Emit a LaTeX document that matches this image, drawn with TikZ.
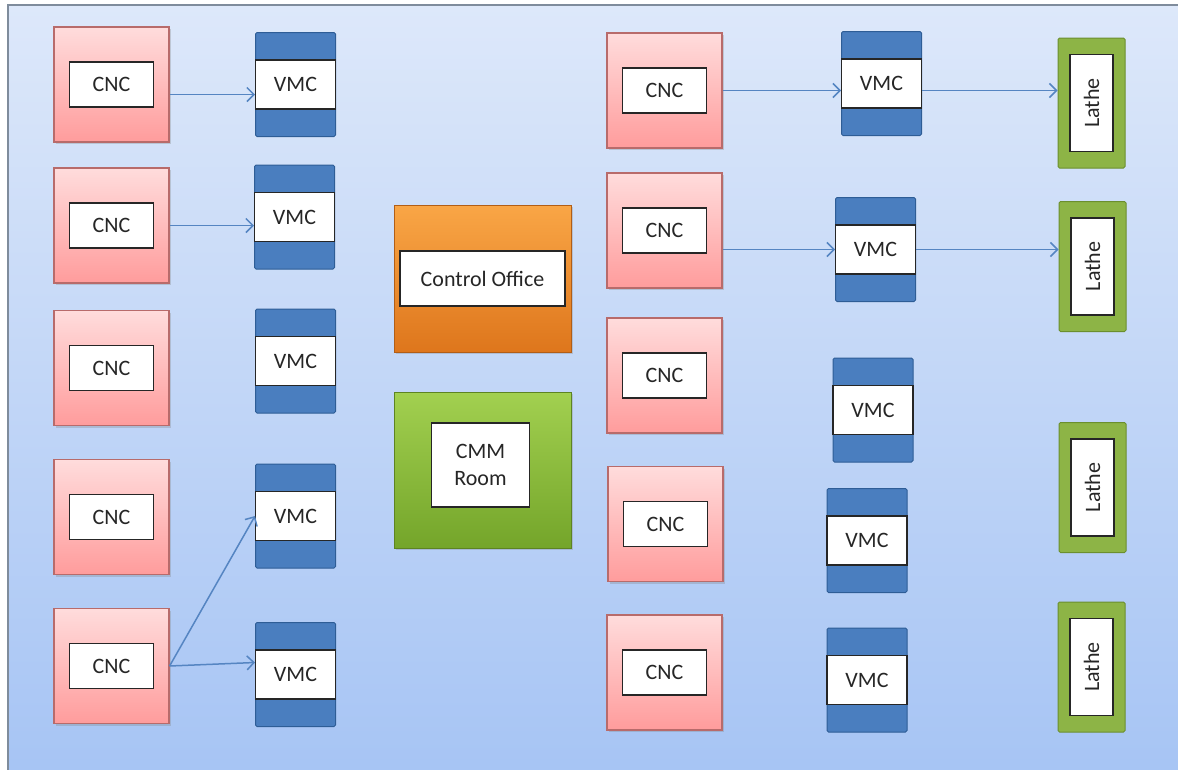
\documentclass[tikz,border=0pt]{standalone}
\usepackage{fontspec}
\usepackage{graphicx}
\setmainfont{Carlito}
\usetikzlibrary{arrows.meta,shadows}

\definecolor{bgTop}{HTML}{DDE8FA}
\definecolor{bgBot}{HTML}{A6C4F4}
\definecolor{frameCol}{HTML}{7F8C9C}
\definecolor{cncTop}{HTML}{FFDCDC}
\definecolor{cncBot}{HTML}{FF9C9C}
\definecolor{cncLine}{HTML}{B86B6B}
\definecolor{vmcFill}{HTML}{4A7EBF}
\definecolor{vmcLine}{HTML}{2E5D96}
\definecolor{latheFill}{HTML}{8DB446}
\definecolor{latheLine}{HTML}{6B8F2E}
\definecolor{ctrlTop}{HTML}{F9A646}
\definecolor{ctrlBot}{HTML}{DE761C}
\definecolor{cmmTop}{HTML}{A2D050}
\definecolor{cmmBot}{HTML}{74A52A}
\definecolor{arrowCol}{HTML}{5585C2}
\definecolor{textCol}{HTML}{262626}

\tikzset{
  shadowed/.style={drop shadow={shadow xshift=2pt, shadow yshift=-2pt, opacity=0.3}},
  whitebox/.style={draw=black!85, line width=1.8pt, fill=white, inner sep=0pt, text=textCol, align=center},
  cncbox/.style={shadowed, draw=cncLine, line width=1.2pt, top color=cncTop, bottom color=cncBot,
    minimum width=115pt, minimum height=115pt, inner sep=0pt},
  cnclabel/.style={whitebox, minimum width=84pt, minimum height=45pt},
  vmcbox/.style={draw=vmcLine, fill=vmcFill, line width=1pt, rounded corners=1.5pt, minimum width=80pt, minimum height=104pt, inner sep=0pt},
  vmclabel/.style={whitebox, minimum width=80pt, minimum height=49pt},
  lathebox/.style={draw=latheLine, fill=latheFill, line width=1pt, rounded corners=1.5pt, minimum width=67pt, minimum height=130pt, inner sep=0pt},
  lathelabel/.style={whitebox, minimum width=43pt, minimum height=97pt},
  ctrlbox/.style={shadowed, draw=ctrlBot!80!black, line width=0.8pt, top color=ctrlTop, bottom color=ctrlBot,
    minimum width=177pt, minimum height=147pt, inner sep=0pt},
  ctrllabel/.style={whitebox, minimum width=165pt, minimum height=55pt},
  cmmbox/.style={shadowed, draw=cmmBot!80!black, line width=0.8pt, top color=cmmTop, bottom color=cmmBot,
    minimum width=177pt, minimum height=156pt, inner sep=0pt},
  cmmlabel/.style={whitebox, minimum width=98pt, minimum height=84pt},
  conn/.style={draw=arrowCol, line width=1.5pt, -{Straight Barb[length=7pt,width=14pt]}}
}

\begin{document}
\begin{tikzpicture}[x=1pt, y=-1pt, font=\fontsize{22}{27}\selectfont]
\useasboundingbox (0,0) rectangle (1178,769);
\fill[white] (0,0) rectangle (1178,769);
\shade[top color=bgTop, bottom color=bgBot] (8,5) rectangle (1190,780);
\draw[frameCol, line width=2pt] (8,780) -- (8,5) -- (1190,5);

% ---------- left CNC column ----------
\node[cncbox] (cl1) at (111.5,84.5) {};
\node[cnclabel] (tl1) at (cl1.center) {CNC};
\node[cncbox] (cl2) at (111.5,225.5) {};
\node[cnclabel] (tl2) at (cl2.center) {CNC};
\node[cncbox] (cl3) at (111.5,368) {};
\node[cnclabel] (tl3) at (cl3.center) {CNC};
\node[cncbox] (cl4) at (111.5,517) {};
\node[cnclabel] (tl4) at (cl4.center) {CNC};
\node[cncbox] (cl5) at (111.5,666) {};
\node[cnclabel] (tl5) at (cl5.center) {CNC};

% ---------- left VMC column ----------
\node[vmcbox] (vl1) at (295.5,84.5) {};
\node[vmclabel] (wl1) at (vl1.center) {VMC};
\node[vmcbox] (vl2) at (294.5,217) {};
\node[vmclabel] (wl2) at (vl2.center) {VMC};
\node[vmcbox] (vl3) at (295.5,361) {};
\node[vmclabel] (wl3) at (vl3.center) {VMC};
\node[vmcbox] (vl4) at (295.5,516) {};
\node[vmclabel] (wl4) at (vl4.center) {VMC};
\node[vmcbox] (vl5) at (295.5,674.5) {};
\node[vmclabel] (wl5) at (vl5.center) {VMC};

% ---------- centre ----------
\node[ctrlbox] (ctrl) at (482.5,278.5) {};
\node[ctrllabel] (ctrlt) at (ctrl.center) {Control Office};
\node[cmmbox] (cmm) at (482.5,470) {};
\node[cmmlabel] (cmmt) at ([xshift=-2pt,yshift=5pt]cmm.center) {CMM\\Room};

% ---------- right CNC column ----------
\node[cncbox] (cr1) at (664.5,90.5) {};
\node[cnclabel] (tr1) at (cr1.center) {CNC};
\node[cncbox] (cr2) at (664.5,230.5) {};
\node[cnclabel] (tr2) at (cr2.center) {CNC};
\node[cncbox] (cr3) at (664.5,375.5) {};
\node[cnclabel] (tr3) at (cr3.center) {CNC};
\node[cncbox] (cr4) at (665.5,524) {};
\node[cnclabel] (tr4) at (cr4.center) {CNC};
\node[cncbox] (cr5) at (664.5,672.5) {};
\node[cnclabel] (tr5) at (cr5.center) {CNC};

% ---------- right VMC column ----------
\node[vmcbox] (vr1) at (881.5,83.5) {};
\node[vmclabel] (wr1) at (vr1.center) {VMC};
\node[vmcbox] (vr2) at (875.5,249.5) {};
\node[vmclabel] (wr2) at (vr2.center) {VMC};
\node[vmcbox] (vr3) at (873,410) {};
\node[vmclabel] (wr3) at (vr3.center) {VMC};
\node[vmcbox] (vr4) at (867,540.5) {};
\node[vmclabel] (wr4) at (vr4.center) {VMC};
\node[vmcbox] (vr5) at (867,680) {};
\node[vmclabel] (wr5) at (vr5.center) {VMC};

% ---------- lathes ----------
\node[lathebox] (lr1) at (1091.5,103) {};
\node[lathelabel] (lt1) at (lr1.center) {\rotatebox{90}{Lathe}};
\node[lathebox] (lr2) at (1092.5,266.5) {};
\node[lathelabel] (lt2) at (lr2.center) {\rotatebox{90}{Lathe}};
\node[lathebox] (lr3) at (1092.5,487.5) {};
\node[lathelabel] (lt3) at (lr3.center) {\rotatebox{90}{Lathe}};
\node[lathebox] (lr4) at (1091.5,667) {};
\node[lathelabel] (lt4) at (lr4.center) {\rotatebox{90}{Lathe}};

% ---------- connectors ----------
\coordinate (s1) at ([yshift=-10pt]cl1.east);
\draw[conn] (s1) -- (s1 -| vl1.west);
\draw[conn] (cl2.east) -- (cl2.east -| vl2.west);
\draw[conn] (cl5.east) -- (vl4.west);
\draw[conn] (cl5.east) -- ([yshift=12pt]vl5.west);

\draw[conn] (cr1.east) -- (cr1.east -| vr1.west);
\draw[conn] (vr1.east |- cr1.east) -- (lr1.west |- cr1.east);
\draw[conn] (cr2.east |- vr2.west) -- (vr2.west);
\draw[conn] (vr2.east) -- (vr2.east -| lr2.west);
\end{tikzpicture}
\end{document}
